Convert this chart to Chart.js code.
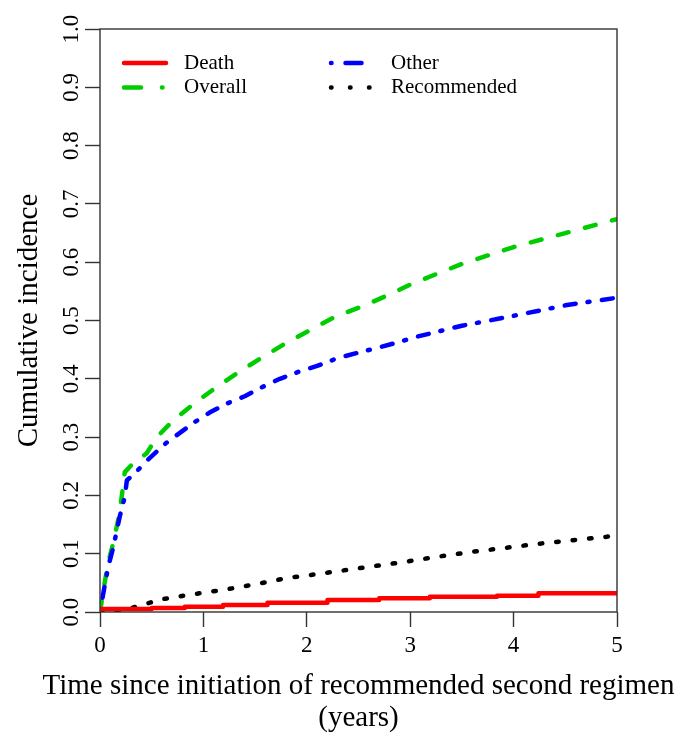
<!DOCTYPE html>
<html>
<head>
<meta charset="utf-8">
<script src="https://cdn.jsdelivr.net/npm/chart.js@4.4.1/dist/chart.umd.min.js"></script>
<style>
html,body{margin:0;padding:0;background:#fff;}
#wrap{width:677px;height:735px;}
</style>
</head>
<body>
<div id="wrap"><canvas id="c" width="677" height="735"></canvas></div>
<script>
// ---- data ----
const xTicks = [0, 1, 2, 3, 4, 5];
const yTicks = [0.0, 0.1, 0.2, 0.3, 0.4, 0.5, 0.6, 0.7, 0.8, 0.9, 1.0];

const deathTime  = [0, 0.5, 0.82, 1.19, 1.62, 2.2, 2.7, 3.19, 3.84, 4.24, 4.85, 5];
const deathValue = [0.002, 0.005, 0.007, 0.009, 0.012, 0.016, 0.0205, 0.0235, 0.026, 0.028, 0.032, 0.032];

const otherTime  = [0, 0.04, 0.08, 0.13, 0.19, 0.24, 0.26, 0.32, 0.48, 0.64, 0.9, 1.06, 1.22, 1.4, 1.56, 1.74, 1.92, 2.1, 2.29, 2.48, 2.68, 2.87, 3.06, 3.5, 4.0, 4.5, 5.0];
const otherValue = [0, 0.04, 0.078, 0.112, 0.163, 0.198, 0.226, 0.235, 0.264, 0.29, 0.324, 0.342, 0.357, 0.37, 0.385, 0.4, 0.412, 0.422, 0.435, 0.444, 0.453, 0.462, 0.472, 0.491, 0.508, 0.526, 0.539];

const overallTime  = [0, 0.04, 0.08, 0.13, 0.19, 0.24, 0.32, 0.45, 0.55, 0.71, 0.935, 1.145, 1.354, 1.58, 1.806, 2.047, 2.27, 2.546, 2.805, 3.03, 3.5, 4.0, 4.5, 5.0];
const overallValue = [0, 0.045, 0.085, 0.12, 0.17, 0.24, 0.255, 0.272, 0.30, 0.329, 0.361, 0.388, 0.413, 0.438, 0.462, 0.485, 0.506, 0.525, 0.545, 0.564, 0.597, 0.626, 0.65, 0.674];

const recTime  = [0, 0.15, 0.29, 0.6, 0.92, 1.23, 1.55, 1.8, 2.1, 2.5, 2.95, 3.27, 3.59, 3.92, 4.24, 4.56, 4.9, 5.0];
const recValue = [0, 0.002, 0.006, 0.022, 0.031, 0.039, 0.049, 0.058, 0.065, 0.075, 0.086, 0.095, 0.103, 0.11, 0.117, 0.123, 0.129, 0.132];

const seriesLabels = ['Death', 'Other', 'Overall', 'Recommended'];
const xTitleLines = ['Time since initiation of recommended second regimen', '(years)'];
const yTitle = 'Cumulative incidence';

function pts(t, v) { return t.map((x, i) => ({ x: x, y: v[i] })); }

const FONT = "'Liberation Serif', 'Times New Roman', serif";
Chart.defaults.font.family = FONT;
Chart.defaults.color = '#000';

// R-style legend drawn inside the plot region
const rLegend = {
  id: 'rLegend',
  afterDraw(chart) {
    const { ctx, chartArea } = chart;
    ctx.save();
    chart.data.datasets.forEach((ds, i) => {
      const col = i % 2, row = Math.floor(i / 2);
      const x0 = chartArea.left + 24 + col * 207;
      const y0 = chartArea.top + 34 + row * 24.5;
      ctx.beginPath();
      ctx.setLineDash(ds.legendDash || ds.borderDash || []);
      ctx.lineCap = 'round';
      ctx.lineWidth = ds.borderWidth;
      ctx.strokeStyle = ds.borderColor;
      ctx.moveTo(x0, y0);
      ctx.lineTo(x0 + 42, y0);
      ctx.stroke();
      ctx.setLineDash([]);
      ctx.fillStyle = '#000';
      ctx.font = '21px ' + FONT;
      ctx.textBaseline = 'middle';
      ctx.textAlign = 'left';
      ctx.fillText(ds.label, x0 + 60, y0);
    });
    ctx.restore();
  }
};

// x-axis title (two lines, centred under the plot, not width-limited)
const rXTitle = {
  id: 'rXTitle',
  afterDraw(chart) {
    const { ctx, chartArea: a } = chart;
    ctx.save();
    ctx.fillStyle = '#000';
    ctx.font = '29px ' + FONT;
    ctx.textAlign = 'center';
    ctx.textBaseline = 'middle';
    const cx = (a.left + a.right) / 2;
    xTitleLines.forEach((t, i) => ctx.fillText(t, cx, a.bottom + 74 + i * 32));
    ctx.restore();
  }
};

// plot frame (box)
const rBox = {
  id: 'rBox',
  afterDatasetsDraw(chart) {
    const { ctx, chartArea: a } = chart;
    ctx.save();
    ctx.strokeStyle = '#333';
    ctx.lineWidth = 1.4;
    ctx.strokeRect(a.left, a.top, a.right - a.left, a.bottom - a.top);
    ctx.restore();
  }
};

new Chart(document.getElementById('c'), {
  type: 'line',
  data: {
    datasets: [
      { label: seriesLabels[0], data: pts(deathTime, deathValue), borderColor: '#ff0000', borderWidth: 4.5, stepped: 'after', borderDash: [] },
      { label: seriesLabels[1], data: pts(otherTime, otherValue), borderColor: '#0000ff', borderWidth: 4.5, borderDash: [2, 12.5, 11, 12], legendDash: [0.5, 14, 16, 20] },
      { label: seriesLabels[2], data: pts(overallTime, overallValue), borderColor: '#00cd00', borderWidth: 4.5, borderDash: [11, 17], legendDash: [17, 21, 0.5, 20] },
      { label: seriesLabels[3], data: pts(recTime, recValue), borderColor: '#000000', borderWidth: 4.5, borderDash: [2.5, 14], legendDash: [0.5, 18.5] }
    ]
  },
  options: {
    responsive: false,
    animation: false,
    devicePixelRatio: 1,
    layout: { padding: { left: 0, right: 60, top: 29, bottom: 0 } },
    elements: {
      point: { radius: 0 },
      line: { tension: 0, borderCapStyle: 'round', borderJoinStyle: 'round', fill: false }
    },
    plugins: {
      legend: { display: false },
      tooltip: { enabled: false }
    },
    scales: {
      x: {
        type: 'linear', min: 0, max: 5,
        afterBuildTicks(s) { s.ticks = xTicks.map(v => ({ value: v })); },
        ticks: { font: { size: 23 }, color: '#000', padding: 5, maxRotation: 0, callback: v => String(v) },
        grid: { display: true, drawOnChartArea: false, drawTicks: true, tickLength: 15, tickColor: '#333', tickWidth: 1.4 },
        border: { display: false },
        title: { display: false },
        afterFit(s) { s.height = 123; }
      },
      y: {
        type: 'linear', min: 0, max: 1,
        afterBuildTicks(s) { s.ticks = yTicks.map(v => ({ value: v })); },
        ticks: { font: { size: 23 }, color: '#000', minRotation: 90, maxRotation: 90, crossAlign: 'center', padding: -1, callback: v => Number(v).toFixed(1) },
        grid: { display: true, drawOnChartArea: false, drawTicks: true, tickLength: 15, tickColor: '#333', tickWidth: 1.4 },
        border: { display: false },
        title: {
          display: true, text: yTitle,
          font: { size: 29, lineHeight: 1.1 }, color: '#000',
          padding: { top: 13, bottom: 0 }
        },
        afterFit(s) { s.width = 100; }
      }
    }
  },
  plugins: [rBox, rLegend, rXTitle]
});
</script>
</body>
</html>
